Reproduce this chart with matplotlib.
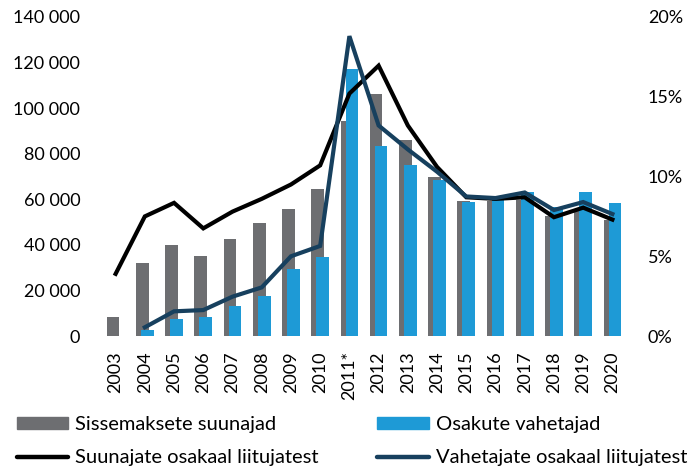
import numpy as np
import matplotlib
matplotlib.use('Agg')
import matplotlib.pyplot as plt
from matplotlib.ticker import FuncFormatter
from matplotlib.patches import Patch
from matplotlib.lines import Line2D

plt.rcParams['font.family'] = ['Lato', 'DejaVu Sans']

years = ['2003', '2004', '2005', '2006', '2007', '2008', '2009', '2010', '2011*',
         '2012', '2013', '2014', '2015', '2016', '2017', '2018', '2019', '2020']
# sissemaksete suunajad (arv)
suunajad = [8200, 32000, 40000, 35100, 42800, 49600, 55800, 64500, 94400,
            106300, 86000, 69600, 59200, 59200, 59600, 52500, 55500, 51000]
# osakute vahetajad (arv), 2003 puudub
vahetajad = [0, 2600, 7300, 8500, 13300, 17400, 29400, 34600, 117000,
             83300, 75000, 68400, 59000, 60000, 63400, 56500, 63000, 58200]
# osakaal liitujatest
suun_osak = [3.9, 7.5, 8.35, 6.75, 7.8, 8.6, 9.5, 10.7, 15.2,
             16.95, 13.2, 10.6, 8.7, 8.6, 8.7, 7.45, 8.05, 7.3]
vah_osak = [np.nan, 0.55, 1.55, 1.63, 2.47, 3.05, 5.0, 5.65, 18.8,
            13.2, 11.7, 10.3, 8.75, 8.65, 9.0, 7.9, 8.4, 7.65]

c_gray = '#6d6e71'
c_blue = '#1e9ad6'
c_black = '#000000'
c_dark = '#17405e'

fig = plt.figure(figsize=(6.99, 4.72), dpi=100)
ax = fig.add_axes([0.1445, 0.288, 0.7525, 0.676])
ax2 = ax.twinx()

x = np.arange(len(years))
w = 0.435
off = 0.086
ax.bar(x - off, suunajad, w, color=c_gray, zorder=2)
ax.bar(x + off, vahetajad, w, color=c_blue, zorder=3)

ax2.plot(x, suun_osak, color=c_black, lw=3.0, solid_joinstyle='miter')
ax2.plot(x, vah_osak, color=c_dark, lw=3.0, solid_joinstyle='miter')

ax.set_xlim(-0.5, len(years) - 0.5)
ax.set_ylim(0, 140000)
ax.set_yticks(np.arange(0, 140001, 20000))
ax.yaxis.set_major_formatter(FuncFormatter(lambda v, p: f'{int(v):,}'.replace(',', ' ')))
ax2.set_ylim(0, 20)
ax2.set_yticks([0, 5, 10, 15, 20])
ax2.yaxis.set_major_formatter(FuncFormatter(lambda v, p: f'{int(v)}%'))

ax.set_xticks(x)
ax.set_xticklabels(years, rotation=90)

for a in (ax, ax2):
    for s in a.spines.values():
        s.set_visible(False)
    a.tick_params(length=0, labelsize=13, colors='#000000')
ax.tick_params(axis='y', pad=15)
ax.tick_params(axis='x', pad=11)
ax2.tick_params(axis='y', pad=15)

handles = [Patch(color=c_gray, label='Sissemaksete suunajad'),
           Line2D([], [], color=c_black, lw=3.2, solid_capstyle='round',
                  label='Suunajate osakaal liitujatest'),
           Patch(color=c_blue, label='Osakute vahetajad'),
           Line2D([], [], color=c_dark, lw=3.2, solid_capstyle='round',
                  label='Vahetajate osakaal liitujatest')]
fig.legend(handles=handles, ncol=2, loc='upper left', bbox_to_anchor=(16.5 / 699, 0.118),
           frameon=False, fontsize=14.5, handlelength=2.58, handleheight=0.53,
           handletextpad=0.33, columnspacing=2.9, labelspacing=0.8,
           borderpad=0, borderaxespad=0)

fig.savefig('out.png', dpi=100)
